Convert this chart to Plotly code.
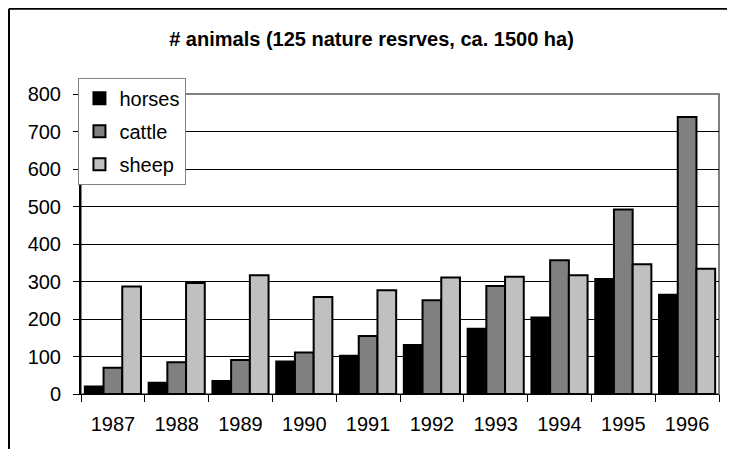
import plotly.graph_objects as go

# data
years = ['1987', '1988', '1989', '1990', '1991', '1992', '1993', '1994', '1995', '1996']
horses = [20, 30, 35, 87, 102, 131, 174, 204, 307, 265]
cattle = [70, 85, 91, 111, 155, 250, 288, 357, 492, 739]
sheep = [287, 296, 317, 259, 277, 311, 313, 317, 346, 334]

font = 'Arial, Liberation Sans, sans-serif'

# page body has an 8px margin; figure reaches the right window edge, height fits
W, H = 727, 441


def gen_bar(vals, name, color):
    return go.Bar(x=years, y=vals, name=name, legendgroup=name,
                  marker={'color': color, 'line': {'color': 'black', 'width': 2}})


fig = go.Figure(data=[
    gen_bar(horses, 'horses', '#000000'),
    gen_bar(cattle, 'cattle', '#808080'),
    gen_bar(sheep, 'sheep', '#C0C0C0'),
])

# outer chart frame position in paper units (kept inside the figure)
frame_x = (1 - 73) / 638
frame_y = 1.284
frame_r = 1 + 16 / 638
frame_b = -55 / 300

fig.update_layout(
    width=W, height=H,
    margin={'l': 73, 'r': 16, 't': 86, 'b': 55},
    paper_bgcolor='white', plot_bgcolor='white',
    font={'family': font, 'size': 20, 'color': 'black'},
    title={'text': '<b># animals (125 nature resrves, ca. 1500 ha)</b>',
           'x': 0.5, 'xanchor': 'center', 'y': 1 - 31 / H, 'yanchor': 'middle',
           'font': {'size': 20}},
    barmode='group', bargap=0.12, bargroupgap=0,
    legend={'x': -0.004, 'xanchor': 'left', 'y': 1.054, 'yanchor': 'top',
            'bgcolor': 'white', 'bordercolor': '#808080', 'borderwidth': 1,
            'traceorder': 'grouped', 'tracegroupgap': 4,
            'font': {'size': 20}, 'itemwidth': 30},
    xaxis={'type': 'category', 'tickson': 'boundaries', 'ticks': 'outside',
           'ticklen': 7, 'tickcolor': 'black', 'showline': True, 'linecolor': 'black',
           'linewidth': 1, 'showgrid': False, 'tickfont': {'size': 20},
           'ticklabelstandoff': 12},
    yaxis={'range': [0, 800], 'dtick': 100, 'ticks': 'outside', 'ticklen': 6,
           'tickcolor': 'black', 'showline': True, 'linecolor': 'black', 'linewidth': 2,
           'showgrid': True, 'gridcolor': 'black', 'gridwidth': 1, 'zeroline': False,
           'tickfont': {'size': 20}, 'ticklabelstandoff': 8},
    shapes=[
        # plot area frame (grey top/right)
        {'type': 'rect', 'xref': 'paper', 'yref': 'paper', 'x0': 0, 'x1': 1, 'y0': 0, 'y1': 1,
         'line': {'color': '#808080', 'width': 2}, 'layer': 'below'},
        # outer chart frame, only left and top edges are in view
        {'type': 'line', 'xref': 'paper', 'yref': 'paper',
         'x0': frame_x, 'x1': frame_x, 'y0': frame_b, 'y1': frame_y,
         'line': {'color': 'black', 'width': 2}, 'layer': 'below'},
        {'type': 'line', 'xref': 'paper', 'yref': 'paper',
         'x0': frame_x, 'x1': frame_r, 'y0': frame_y, 'y1': frame_y,
         'line': {'color': 'black', 'width': 2}, 'layer': 'below'},
    ],
    showlegend=True,
)

fig.write_html('out.html')
